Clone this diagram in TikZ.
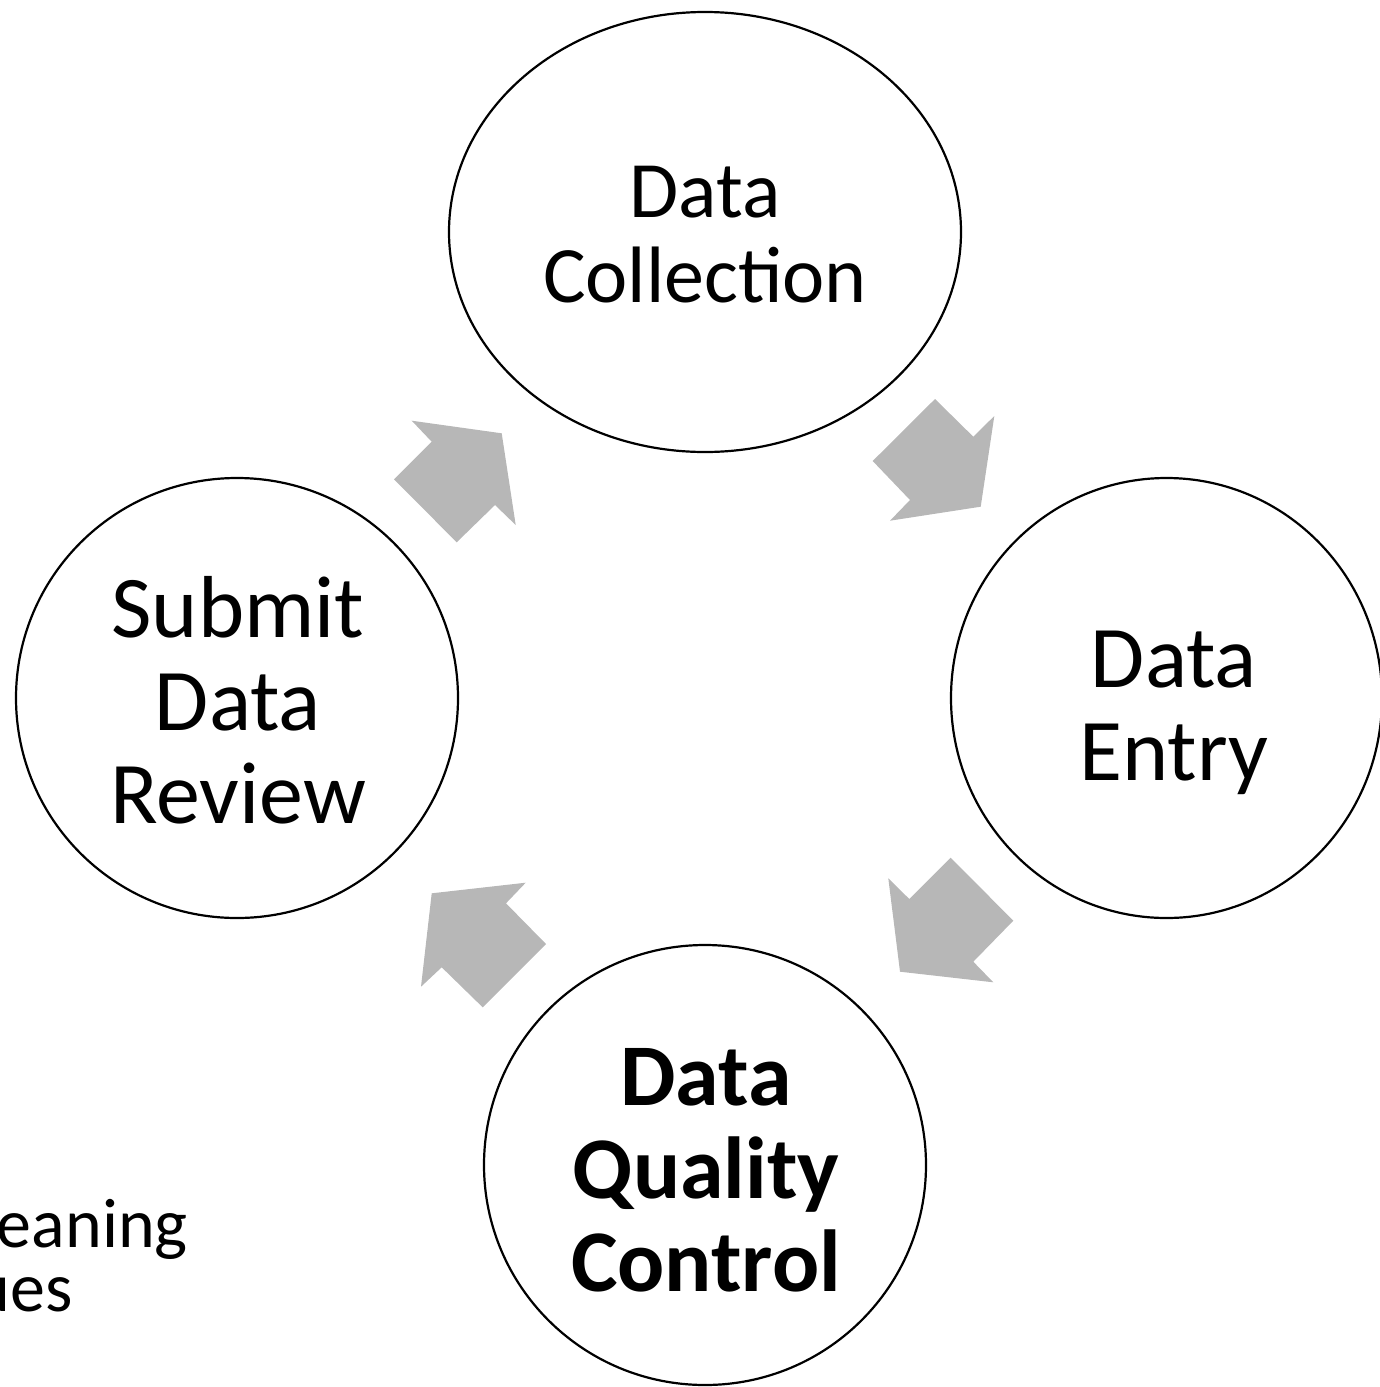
\documentclass[tikz,border=0pt]{standalone}
\usepackage{fontspec}
\setmainfont{Carlito}
\usetikzlibrary{shapes.geometric}
\definecolor{arrowgray}{RGB}{183,183,183}
\begin{document}
\begin{tikzpicture}[x=1pt,y=-1pt,
  stage/.style={draw=black, line width=2.2pt, ellipse, inner sep=0pt},
  lbl/.style={align=center, inner sep=0pt, font=\fontsize{88}{93}\selectfont},
  blockarrow/.style={fill=arrowgray, draw=none},
  sidetext/.style={inner sep=0pt, anchor=base east, font=\fontsize{70}{64}\selectfont}]
\useasboundingbox (0,0) rectangle (1379,1387);

% stages
\node[stage, minimum width=512, minimum height=440] (top) at (705,232) {};
\node[stage, minimum width=431, minimum height=440] (right) at (1166.5,698) {};
\node[stage, minimum width=442, minimum height=440] (bottom) at (705,1165) {};
\node[stage, minimum width=442, minimum height=440] (left) at (237,698) {};

% labels
\node[lbl, font=\fontsize{80}{85}\selectfont] (ttop) at (705,235) {Data\\Collection};
\node[lbl] (tright) at (1174,713) {Data\\Entry};
\node[lbl, font=\fontsize{88}{93}\selectfont\bfseries] (tbottom) at (706,1170) {Data\\Quality\\Control};
\node[lbl] (tleft) at (238,700) {Submit\\Data\\Review};

% block arrows
\fill[blockarrow] (501.7,433.3) -- (411.7,420.7) -- (431.7,441.7) -- (394,479.3)
  -- (456.7,542.3) -- (495,505) -- (515.7,525) -- cycle;
\fill[blockarrow] (980.7,506.7) -- (890,520.7) -- (910,500) -- (872.7,461)
  -- (935,399) -- (973.3,436.7) -- (994.3,416) -- cycle;
\fill[blockarrow] (900,971.7) -- (993.3,982.3) -- (973.3,961.7) -- (1013.3,920.7)
  -- (950.7,857.7) -- (909.3,899) -- (888.3,878.3) -- cycle;
\fill[blockarrow] (431.7,893.3) -- (525.7,882.7) -- (506,903.3) -- (546,944)
  -- (482.7,1007.3) -- (441.7,967.3) -- (421,986.7) -- cycle;

% partial text at the left edge
\node[sidetext] (clean) at (188,1247) {eaning};
\node[sidetext] (issues) at (73,1311) {ues};
\end{tikzpicture}
\end{document}
